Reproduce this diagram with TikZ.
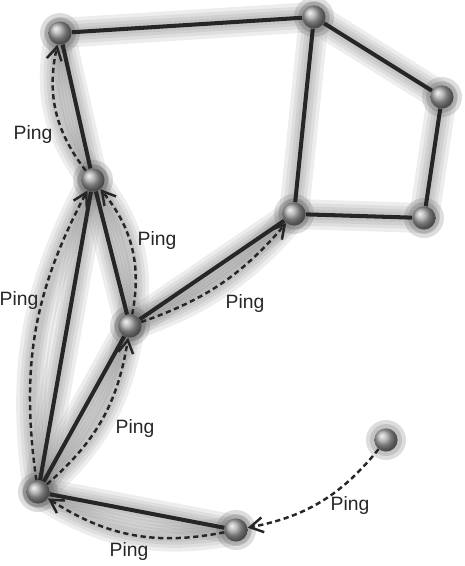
\documentclass[tikz,border=0pt]{standalone}
\usepackage{fontspec}
\setmainfont{Liberation Sans}
\usetikzlibrary{arrows.meta}
\pgfdeclarelayer{back}
\pgfsetlayers{back,main}

\begin{document}
\begin{tikzpicture}[x=0.02cm, y=-0.02cm,
    host/.style={circle, minimum size=0.46cm, inner sep=0pt, shading=ball, ball color=gray!70},
    link/.style={line width=2.3pt, draw=black!85},
    glow/.style={line width=#1, draw=gray, opacity=0.14, line cap=round},
    ping/.style={->, >={Straight Barb[length=2.6mm, width=3mm]}, line width=1.4pt, dash pattern=on 3pt off 2pt, draw=black!85},
    lbl/.style={font=\fontsize{11}{13}\selectfont, text=black!85, inner sep=0pt}
]
\useasboundingbox (0,0) rectangle (465,566);

\node[host] (a) at (60,33)   {};
\node[host] (b) at (314,17)  {};
\node[host] (c) at (442,97)  {};
\node[host] (d) at (424,218) {};
\node[host] (e) at (294,214) {};
\node[host] (f) at (93,180)  {};
\node[host] (g) at (130,326) {};
\node[host] (h) at (38,492)  {};
\node[host] (i) at (236,530) {};
\node[host] (j) at (386,440) {};

\begin{pgfonlayer}{back}
\foreach \w in {0.6cm,0.45cm,0.32cm,0.2cm} {
    \foreach \u/\v in {a/b,b/c,c/d,d/e,e/b,a/f,f/g,f/h,g/h,g/e,h/i}
        \draw[glow=\w] (\u.center) -- (\v.center);
    \draw[glow=\w] (f.center) to[bend left=25] (a.center);
    \draw[glow=\w] (h.center) to[bend left=18] (f.center);
    \draw[glow=\w] (g.center) to[bend right=25] (f.center);
    \draw[glow=\w] (h.center) to[bend right=20] (g.center);
    \draw[glow=\w] (g.center) to[bend right=15] (e.center);
    \draw[glow=\w] (i.center) to[bend left=22] (h.center);
}
\foreach \r in {20,16,12}
    \foreach \n in {a,b,c,d,e,f,g,h,i,j}
        \fill[gray!80!black, opacity=0.22] (\n) circle (\r);

\draw[link] (a) -- (b);
\draw[link] (b) -- (c);
\draw[link] (c) -- (d);
\draw[link] (d) -- (e);
\draw[link] (e) -- (b);
\draw[link] (a) -- (f);
\draw[link] (f) -- (g);
\draw[link] (f) -- (h);
\draw[link] (g) -- (h);
\draw[link] (g) -- (e);
\draw[link] (h) -- (i);
\end{pgfonlayer}

\draw[ping] (f) to[bend left=25]  (a);
\draw[ping] (h) to[bend left=18]  (f);
\draw[ping] (g) to[bend right=25] (f);
\draw[ping] (h) to[bend right=20] (g);
\draw[ping] (g) to[bend right=15] (e);
\draw[ping] (i) to[bend left=22]  (h);
\draw[ping] (j) to[bend left=20]  (i);

\node[lbl] (pfa) at (33,134)  {Ping};
\node[lbl] (pgf) at (157,240) {Ping};
\node[lbl] (phf) at (19,300)  {Ping};
\node[lbl] (phg) at (135,428) {Ping};
\node[lbl] (pge) at (245,303) {Ping};
\node[lbl] (pih) at (129,551) {Ping};
\node[lbl] (pji) at (350,505) {Ping};
\end{tikzpicture}
\end{document}
